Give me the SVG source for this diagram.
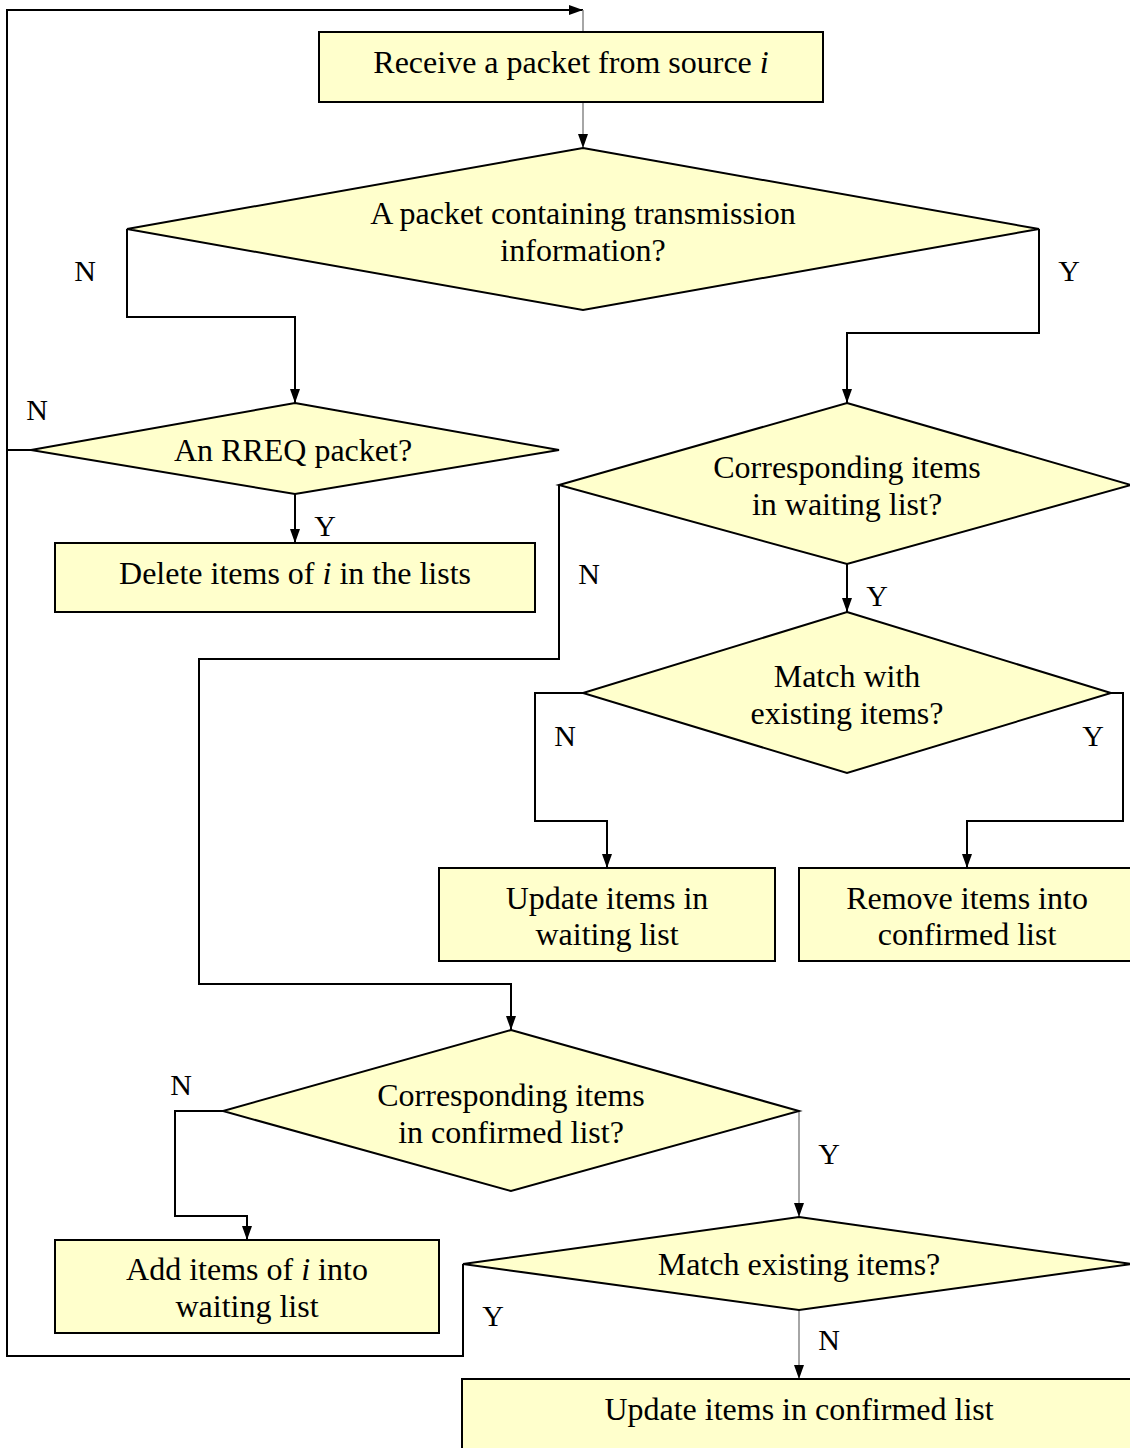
<svg xmlns="http://www.w3.org/2000/svg" width="1130" height="1448" viewBox="0 0 1130 1448">
  <style>
    .shape { fill: #FFFFCC; stroke: #000; stroke-width: 2; }
    .txt { font-family: "Liberation Serif", "Times New Roman", serif; font-size: 32px; fill: #000; text-anchor: middle; }
    .lbl { font-family: "Liberation Serif", "Times New Roman", serif; font-size: 30px; fill: #000; text-anchor: middle; }
    .wire { fill: none; stroke: #000; stroke-width: 2; }
    .wire-g { fill: none; stroke: #888; stroke-width: 1.5; }
  </style>
  <defs>
    <marker id="arrowL" viewBox="0 0 14 10" refX="14" refY="5" markerWidth="14" markerHeight="10" markerUnits="userSpaceOnUse" orient="auto" preserveAspectRatio="none">
      <path d="M0,0 L14,5 L0,10 z" fill="#000"/>
    </marker>
  </defs>

  <g id="connectors">
    <!-- loop back to the top -->
    <path class="wire" d="M463,1264 V1356 H7 V10 H583" marker-end="url(#arrowL)"/>
    <path class="wire" d="M31,450 H7"/>
    <path class="wire-g" d="M583,10 V32"/>
    <path class="wire-g" d="M583,102 V148" marker-end="url(#arrowL)"/>
    <!-- packet test -->
    <path class="wire" d="M127,229 V317 H295 V403" marker-end="url(#arrowL)"/>
    <path class="wire" d="M1039,229 V333 H847 V403" marker-end="url(#arrowL)"/>
    <!-- RREQ test -->
    <path class="wire" d="M295,494 V543" marker-end="url(#arrowL)"/>
    <!-- waiting list test -->
    <path class="wire" d="M559,485 V659 H199 V984 H511 V1030" marker-end="url(#arrowL)"/>
    <path class="wire" d="M847,564 V612" marker-end="url(#arrowL)"/>
    <!-- match with existing items -->
    <path class="wire" d="M583,693 H535 V821 H607 V868" marker-end="url(#arrowL)"/>
    <path class="wire" d="M1111,693 H1123 V821 H967 V868" marker-end="url(#arrowL)"/>
    <!-- confirmed list test -->
    <path class="wire" d="M223,1111 H175 V1216 H247 V1240" marker-end="url(#arrowL)"/>
    <path class="wire-g" d="M799,1111 V1217" marker-end="url(#arrowL)"/>
    <!-- match existing items -->
    <path class="wire-g" d="M799,1310 V1379" marker-end="url(#arrowL)"/>
  </g>

  <g id="labels">
    <text class="lbl" x="85" y="281">N</text>
    <text class="lbl" x="1069" y="281">Y</text>
    <text class="lbl" x="37" y="420">N</text>
    <text class="lbl" x="325" y="536">Y</text>
    <text class="lbl" x="589" y="584">N</text>
    <text class="lbl" x="877" y="606">Y</text>
    <text class="lbl" x="565" y="746">N</text>
    <text class="lbl" x="1093" y="746">Y</text>
    <text class="lbl" x="181" y="1095">N</text>
    <text class="lbl" x="829" y="1164">Y</text>
    <text class="lbl" x="493" y="1326">Y</text>
    <text class="lbl" x="829" y="1350">N</text>
  </g>

  <g id="receive">
    <rect class="shape" x="319" y="32" width="504" height="70"/>
    <text class="txt" x="571" y="73">Receive a packet from source <tspan font-style="italic">i</tspan></text>
  </g>

  <g id="is-transmission">
    <polygon class="shape" points="583,148 1039,229 583,310 127,229"/>
    <text class="txt" x="583" y="224">A packet containing transmission</text>
    <text class="txt" x="583" y="261">information?</text>
  </g>

  <g id="is-rreq">
    <polygon class="shape" points="295,403 559,450 295,494 31,450"/>
    <text class="txt" x="293" y="461">An RREQ packet?</text>
  </g>

  <g id="delete-items">
    <rect class="shape" x="55" y="543" width="480" height="69"/>
    <text class="txt" x="295" y="584">Delete items of <tspan font-style="italic">i</tspan> in the lists</text>
  </g>

  <g id="in-waiting">
    <polygon class="shape" points="847,403 1131,485 847,564 559,485"/>
    <text class="txt" x="847" y="478">Corresponding items</text>
    <text class="txt" x="847" y="515">in waiting list?</text>
  </g>

  <g id="match-with">
    <polygon class="shape" points="847,612 1111,693 847,773 583,693"/>
    <text class="txt" x="847" y="687">Match with</text>
    <text class="txt" x="847" y="724">existing items?</text>
  </g>

  <g id="update-waiting">
    <rect class="shape" x="439" y="868" width="336" height="93"/>
    <text class="txt" x="607" y="909">Update items in</text>
    <text class="txt" x="607" y="945">waiting list</text>
  </g>

  <g id="remove-items">
    <rect class="shape" x="799" y="868" width="340" height="93"/>
    <text class="txt" x="967" y="909">Remove items into</text>
    <text class="txt" x="967" y="945">confirmed list</text>
  </g>

  <g id="in-confirmed">
    <polygon class="shape" points="511,1030 799,1111 511,1191 223,1111"/>
    <text class="txt" x="511" y="1106">Corresponding items</text>
    <text class="txt" x="511" y="1143">in confirmed list?</text>
  </g>

  <g id="add-items">
    <rect class="shape" x="55" y="1240" width="384" height="93"/>
    <text class="txt" x="247" y="1280">Add items of <tspan font-style="italic">i</tspan> into</text>
    <text class="txt" x="247" y="1317">waiting list</text>
  </g>

  <g id="match-existing">
    <polygon class="shape" points="799,1217 1131,1264 799,1310 463,1264"/>
    <text class="txt" x="799" y="1275">Match existing items?</text>
  </g>

  <g id="update-confirmed">
    <rect class="shape" x="462" y="1379" width="680" height="80"/>
    <text class="txt" x="799" y="1420">Update items in confirmed list</text>
  </g>
</svg>
